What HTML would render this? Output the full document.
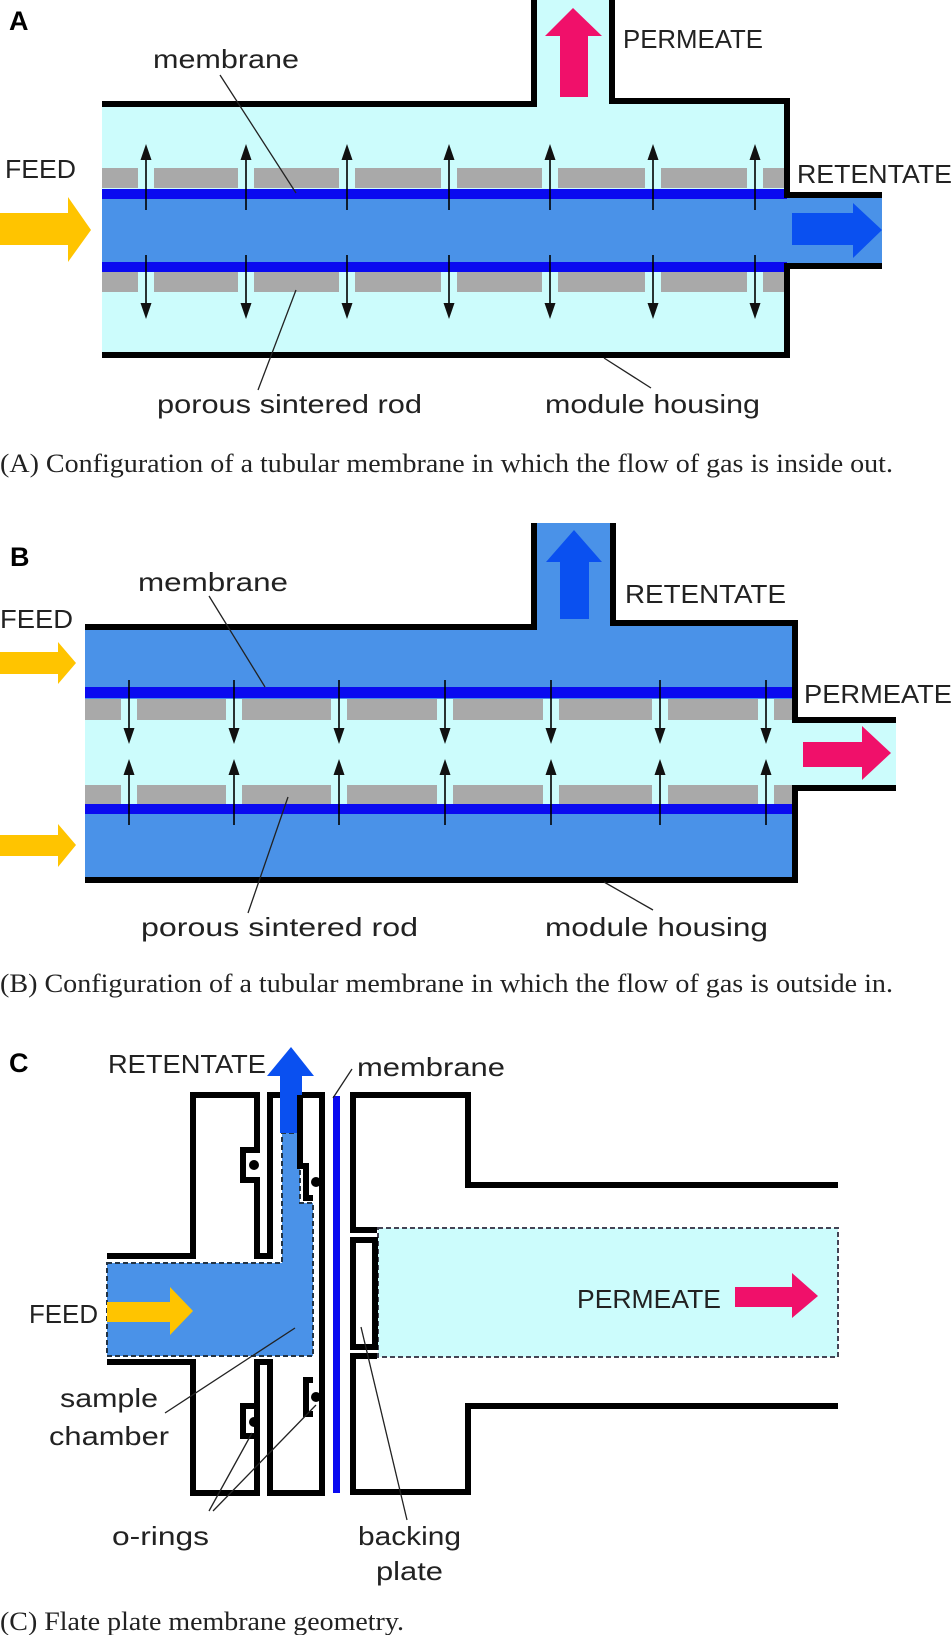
<!DOCTYPE html>
<html><head><meta charset="utf-8"><style>
html,body{margin:0;padding:0;background:#fff;}
svg{display:block;}
.t{font-family:"Liberation Sans",sans-serif;font-size:26px;fill:#222;}
.c{font-family:"Liberation Serif",serif;font-size:26px;fill:#222;}
.b{font-family:"Liberation Sans",sans-serif;font-size:27px;font-weight:bold;fill:#000;}
</style></head><body>
<svg width="952" height="1635" viewBox="0 0 952 1635" xmlns="http://www.w3.org/2000/svg">
<defs>
<g id="up"><line x1="0" y1="0" x2="0" y2="-50" stroke="#000" stroke-width="1.6"/><polygon points="-5.5,-50 5.5,-50 0,-66" fill="#111"/></g>
<g id="dn"><line x1="0" y1="0" x2="0" y2="50" stroke="#000" stroke-width="1.6"/><polygon points="-5.5,48 5.5,48 0,64" fill="#111"/></g>
</defs>

<!-- PANEL A -->
<polygon points="102,104 534,104 534,0 611,0 611,101 787,101 787,355 102,355" fill="#ccfcfc"/>
<rect x="102" y="168" width="685" height="20" fill="#a9a9a9"/>
<rect x="102" y="272" width="685" height="20" fill="#a9a9a9"/>
<g fill="#ccfcfc">
<rect x="138" y="168" width="16" height="20"/><rect x="238" y="168" width="16" height="20"/><rect x="339" y="168" width="16" height="20"/><rect x="441" y="168" width="16" height="20"/><rect x="542" y="168" width="16" height="20"/><rect x="645" y="168" width="16" height="20"/><rect x="747" y="168" width="16" height="20"/>
<rect x="138" y="272" width="16" height="20"/><rect x="238" y="272" width="16" height="20"/><rect x="339" y="272" width="16" height="20"/><rect x="441" y="272" width="16" height="20"/><rect x="542" y="272" width="16" height="20"/><rect x="645" y="272" width="16" height="20"/><rect x="747" y="272" width="16" height="20"/>
</g>
<rect x="102" y="198" width="780" height="66" fill="#4a92e8"/>
<rect x="102" y="189" width="685" height="10" fill="#0a0af0"/>
<rect x="102" y="262" width="685" height="10" fill="#0a0af0"/>
<path d="M102,104 H534 V0 M612,0 V101 H787 V195 H882 M882,266 H787 V355 H102" fill="none" stroke="#000" stroke-width="6"/>
<g>
<use href="#up" x="146" y="210"/><use href="#up" x="246" y="210"/><use href="#up" x="347" y="210"/><use href="#up" x="449" y="210"/><use href="#up" x="550" y="210"/><use href="#up" x="653" y="210"/><use href="#up" x="755" y="210"/>
<use href="#dn" x="146" y="255"/><use href="#dn" x="246" y="255"/><use href="#dn" x="347" y="255"/><use href="#dn" x="449" y="255"/><use href="#dn" x="550" y="255"/><use href="#dn" x="653" y="255"/><use href="#dn" x="755" y="255"/>
</g>
<polygon points="560,97 588,97 588,36 602,36 573,8 545,36 560,36" fill="#f0106a"/>
<polygon points="0,213 68,213 68,197 91,230 68,262 68,245 0,245" fill="#ffc400"/>
<polygon points="792,213 853,213 853,203 882,230 853,258 853,245 792,245" fill="#0a50f0"/>
<text class="b" x="9" y="30">A</text>
<text class="t" x="623" y="48" textLength="140" lengthAdjust="spacingAndGlyphs">PERMEATE</text>
<text class="t" x="153" y="68" textLength="146" lengthAdjust="spacingAndGlyphs">membrane</text>
<text class="t" x="5" y="178" textLength="71" lengthAdjust="spacingAndGlyphs">FEED</text>
<text class="t" x="797" y="183" textLength="155" lengthAdjust="spacingAndGlyphs">RETENTATE</text>
<line x1="220" y1="75" x2="296" y2="193" stroke="#222" stroke-width="1.3"/>
<text class="t" x="157" y="413" textLength="265" lengthAdjust="spacingAndGlyphs">porous sintered rod</text>
<line x1="258" y1="390" x2="296" y2="290" stroke="#222" stroke-width="1.3"/>
<text class="t" x="545" y="413" textLength="215" lengthAdjust="spacingAndGlyphs">module housing</text>
<line x1="651" y1="388" x2="604" y2="358" stroke="#222" stroke-width="1.3"/>
<text class="c" x="0" y="472" textLength="893" lengthAdjust="spacingAndGlyphs">(A) Configuration of a tubular membrane in which the flow of gas is inside out.</text>

<!-- PANEL B -->
<polygon points="85,627 534,627 534,523 613,523 613,623 795,623 795,880 85,880" fill="#4a92e8"/>
<rect x="85" y="699" width="710" height="21" fill="#a9a9a9"/>
<rect x="85" y="785" width="710" height="19" fill="#a9a9a9"/>
<g fill="#ccfcfc">
<rect x="121" y="699" width="16" height="21"/><rect x="226" y="699" width="16" height="21"/><rect x="331" y="699" width="16" height="21"/><rect x="437" y="699" width="16" height="21"/><rect x="543" y="699" width="16" height="21"/><rect x="652" y="699" width="16" height="21"/><rect x="758" y="699" width="16" height="21"/>
<rect x="121" y="785" width="16" height="19"/><rect x="226" y="785" width="16" height="19"/><rect x="331" y="785" width="16" height="19"/><rect x="437" y="785" width="16" height="19"/><rect x="543" y="785" width="16" height="19"/><rect x="652" y="785" width="16" height="19"/><rect x="758" y="785" width="16" height="19"/>
</g>
<rect x="85" y="720" width="811" height="65" fill="#ccfcfc"/>
<rect x="85" y="687" width="710" height="11" fill="#0a0af0"/>
<rect x="85" y="804" width="710" height="10" fill="#0a0af0"/>
<path d="M85,627 H534 V523 M613,523 V623 H795 V720 H896 M896,788 H795 V880 H85" fill="none" stroke="#000" stroke-width="6"/>
<g>
<use href="#dn" x="129" y="680"/><use href="#dn" x="234" y="680"/><use href="#dn" x="339" y="680"/><use href="#dn" x="445" y="680"/><use href="#dn" x="551" y="680"/><use href="#dn" x="660" y="680"/><use href="#dn" x="766" y="680"/>
<use href="#up" x="129" y="825"/><use href="#up" x="234" y="825"/><use href="#up" x="339" y="825"/><use href="#up" x="445" y="825"/><use href="#up" x="551" y="825"/><use href="#up" x="660" y="825"/><use href="#up" x="766" y="825"/>
</g>
<polygon points="560,619 589,619 589,562 602,562 574,530 546,562 560,562" fill="#0a50f0"/>
<polygon points="0,652 58,652 58,642 76,663 58,684 58,674 0,674" fill="#ffc400"/>
<polygon points="0,835 58,835 58,824 76,845 58,867 58,856 0,856" fill="#ffc400"/>
<polygon points="803,742 862,742 862,726 891,753 862,780 862,767 803,767" fill="#f0106a"/>
<text class="b" x="10" y="566">B</text>
<text class="t" x="138" y="591" textLength="150" lengthAdjust="spacingAndGlyphs">membrane</text>
<line x1="209" y1="596" x2="265" y2="687" stroke="#222" stroke-width="1.3"/>
<text class="t" x="0" y="628" textLength="73" lengthAdjust="spacingAndGlyphs">FEED</text>
<text class="t" x="625" y="603" textLength="161" lengthAdjust="spacingAndGlyphs">RETENTATE</text>
<text class="t" x="804" y="703" textLength="148" lengthAdjust="spacingAndGlyphs">PERMEATE</text>
<text class="t" x="141" y="936" textLength="277" lengthAdjust="spacingAndGlyphs">porous sintered rod</text>
<line x1="248" y1="913" x2="288" y2="797" stroke="#222" stroke-width="1.3"/>
<text class="t" x="545" y="936" textLength="223" lengthAdjust="spacingAndGlyphs">module housing</text>
<line x1="653" y1="910" x2="604" y2="882" stroke="#222" stroke-width="1.3"/>
<text class="c" x="0" y="992" textLength="893" lengthAdjust="spacingAndGlyphs">(B) Configuration of a tubular membrane in which the flow of gas is outside in.</text>

<!-- PANEL C -->
<rect x="378" y="1228" width="460" height="129" fill="#ccfcfc" stroke="#445" stroke-width="2" stroke-dasharray="5,3"/>
<polygon points="107,1263 282,1263 282,1133 300,1133 300,1203 313,1203 313,1356 107,1356" fill="#4a92e8" stroke="#234" stroke-width="2" stroke-dasharray="5,3"/>
<rect x="280" y="1076" width="22" height="57" fill="#0a50f0"/>
<polygon points="267,1076 314,1076 291,1047" fill="#0a50f0"/>
<polygon points="107,1302 170,1302 170,1287 193,1311 170,1335 170,1322 107,1322" fill="#ffc400"/>
<rect x="333" y="1096" width="7" height="397" fill="#0a0af0"/>
<g fill="none" stroke="#000" stroke-width="6" stroke-linejoin="miter">
<path d="M107,1256 H193 V1095 H257 V1150 H243 V1180 H257 V1256 H270 V1095 H280"/>
<path d="M302,1095 H322 V1493 H270 V1362 H257 V1493 H193 V1362 H107"/>
<path d="M300,1095 V1166 H306 V1198 H313"/>
<path d="M257,1362 V1406 H243 V1436 H257"/>
<path d="M313,1380 H306 V1414 H313"/>
<path d="M838,1185 H468 V1095 H353 V1230 H377"/>
<path d="M838,1406 H468 V1492 H353 V1356 H377"/>
<rect x="353" y="1240" width="22" height="107"/>
</g>
<circle cx="254" cy="1165" r="5" fill="#000"/>
<circle cx="316" cy="1182" r="5" fill="#000"/>
<circle cx="254" cy="1422" r="5" fill="#000"/>
<circle cx="316" cy="1397" r="5" fill="#000"/>
<polygon points="735,1287 792,1287 792,1273 818,1296 792,1318 792,1307 735,1307" fill="#f0106a"/>
<text class="b" x="9" y="1072">C</text>
<text class="t" x="108" y="1073" textLength="158" lengthAdjust="spacingAndGlyphs">RETENTATE</text>
<text class="t" x="357" y="1076" textLength="148" lengthAdjust="spacingAndGlyphs">membrane</text>
<line x1="352" y1="1069" x2="333" y2="1098" stroke="#222" stroke-width="1.3"/>
<text class="t" x="577" y="1308" textLength="144" lengthAdjust="spacingAndGlyphs">PERMEATE</text>
<text class="t" x="29" y="1323" textLength="69" lengthAdjust="spacingAndGlyphs">FEED</text>
<text class="t" x="60" y="1407" textLength="98" lengthAdjust="spacingAndGlyphs">sample</text>
<text class="t" x="49" y="1445" textLength="120" lengthAdjust="spacingAndGlyphs">chamber</text>
<line x1="165" y1="1413" x2="295" y2="1328" stroke="#222" stroke-width="1.3"/>
<text class="t" x="112" y="1545" textLength="97" lengthAdjust="spacingAndGlyphs">o-rings</text>
<line x1="209" y1="1511" x2="252" y2="1433" stroke="#222" stroke-width="1.3"/>
<line x1="213" y1="1511" x2="316" y2="1405" stroke="#222" stroke-width="1.3"/>
<text class="t" x="358" y="1545" textLength="103" lengthAdjust="spacingAndGlyphs">backing</text>
<text class="t" x="376" y="1580" textLength="67" lengthAdjust="spacingAndGlyphs">plate</text>
<line x1="407" y1="1520" x2="361" y2="1327" stroke="#222" stroke-width="1.3"/>
<text class="c" x="0" y="1630" textLength="404" lengthAdjust="spacingAndGlyphs">(C) Flate plate membrane geometry.</text>
</svg>
</body></html>
